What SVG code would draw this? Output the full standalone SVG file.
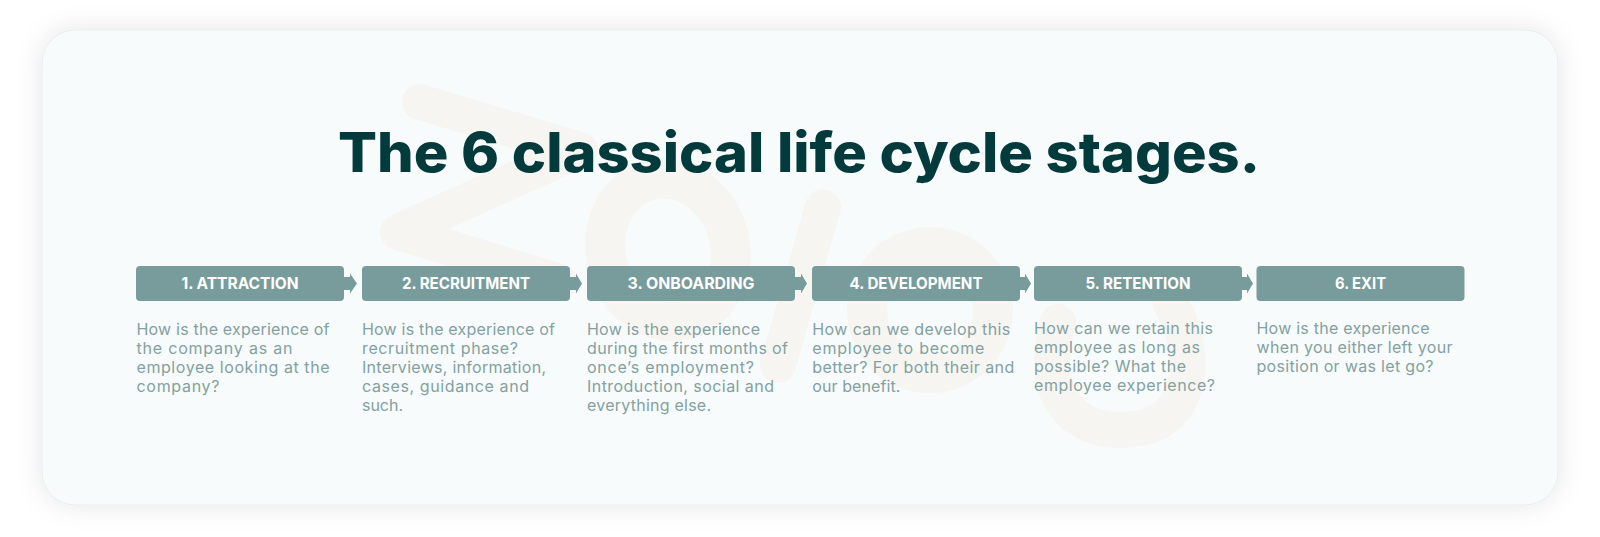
<svg xmlns="http://www.w3.org/2000/svg" width="1600" height="537" viewBox="0 0 1600 537">
  <defs>
    <filter id="shadow" x="-10%" y="-20%" width="120%" height="140%">
      <feDropShadow dx="0" dy="0" stdDeviation="13" flood-color="#000000" flood-opacity="0.10"/>
    </filter>
    <style>
      .title { font-family: Inter, "Liberation Sans", sans-serif; font-weight: 800; font-size: 55px; fill: #033b3d; }
      .box { fill: #789c9b; }
      .label { font-family: Inter, "Liberation Sans", sans-serif; font-weight: 700; font-size: 16px; fill: #ffffff; text-anchor: middle; }
      .body { font-family: Inter, "Liberation Sans", sans-serif; font-weight: 400; font-size: 16px; fill: #82a1a0; }
      .wm { fill: none; stroke: #f6f5f2; stroke-linecap: round; stroke-linejoin: round; }
      .arrow { fill: #789c9b; }
    </style>
  </defs>
  <rect x="0" y="0" width="1600" height="537" fill="#ffffff"/>
  <rect id="card" x="42" y="30" width="1516" height="475" rx="33" ry="33" fill="#f8fbfc" stroke="#e9eced" stroke-width="1" filter="url(#shadow)"/>

  <g id="watermark">
    <path class="wm" stroke-width="36" d="M 420 102 L 580 150 L 398 232 L 560 282"/>
    <ellipse class="wm" stroke-width="40" cx="668" cy="250" rx="62" ry="72" transform="rotate(-15 668 250)"/>
    <path class="wm" stroke-width="36" d="M 823 207 L 778 365"/>
    <circle class="wm" stroke-width="40" cx="930" cy="310" r="63"/>
    <path class="wm" stroke-width="36" d="M 1058 322 C 1035 400 1080 440 1140 428 C 1195 418 1198 350 1170 302"/>
  </g>

  <text id="title" class="title" x="338" y="172" textLength="922" lengthAdjust="spacingAndGlyphs">The 6 classical life cycle stages.</text>

  <g id="connectors">
    <path class="arrow" d="M 343 277 L 350 277 L 350 273.5 L 357 283.5 L 350 293.5 L 350 290 L 343 290 Z"/>
    <path class="arrow" d="M 569 277 L 576 277 L 576 273.5 L 582 283.5 L 576 293.5 L 576 290 L 569 290 Z"/>
    <path class="arrow" d="M 794 277 L 801 277 L 801 273.5 L 807 283.5 L 801 293.5 L 801 290 L 794 290 Z"/>
    <path class="arrow" d="M 1019 277 L 1025 277 L 1025 273.5 L 1031 283.5 L 1025 293.5 L 1025 290 L 1019 290 Z"/>
    <path class="arrow" d="M 1241 277 L 1247 277 L 1247 273.5 L 1253 283.5 L 1247 293.5 L 1247 290 L 1241 290 Z"/>
  </g>

  <g id="stage1">
    <rect class="box" x="136" y="266" width="208" height="35" rx="4"/>
    <text class="label" x="240" y="289" textLength="117" lengthAdjust="spacingAndGlyphs">1. ATTRACTION</text>
    <text class="body" x="136.5" y="334.5" textLength="193" lengthAdjust="spacing">How is the experience of</text>
    <text class="body" x="136.5" y="353.6" textLength="156" lengthAdjust="spacing">the company as an</text>
    <text class="body" x="136.5" y="372.7" textLength="193" lengthAdjust="spacing">employee looking at the</text>
    <text class="body" x="136.5" y="391.8" textLength="83" lengthAdjust="spacing">company?</text>
  </g>

  <g id="stage2">
    <rect class="box" x="362" y="266" width="208" height="35" rx="4"/>
    <text class="label" x="466" y="289" textLength="128" lengthAdjust="spacingAndGlyphs">2. RECRUITMENT</text>
    <text class="body" x="362" y="334.5" textLength="193" lengthAdjust="spacing">How is the experience of</text>
    <text class="body" x="362" y="353.6" textLength="156" lengthAdjust="spacing">recruitment phase?</text>
    <text class="body" x="362" y="372.7" textLength="184" lengthAdjust="spacing">Interviews, information,</text>
    <text class="body" x="362" y="391.8" textLength="167" lengthAdjust="spacing">cases, guidance and</text>
    <text class="body" x="362" y="410.9" textLength="41" lengthAdjust="spacing">such.</text>
  </g>

  <g id="stage3">
    <rect class="box" x="587" y="266" width="208" height="35" rx="4"/>
    <text class="label" x="691" y="289" textLength="127" lengthAdjust="spacingAndGlyphs">3. ONBOARDING</text>
    <text class="body" x="587" y="334.5" textLength="173" lengthAdjust="spacing">How is the experience</text>
    <text class="body" x="587" y="353.6" textLength="201" lengthAdjust="spacing">during the first months of</text>
    <text class="body" x="587" y="372.7" textLength="167" lengthAdjust="spacing">once’s employment?</text>
    <text class="body" x="587" y="391.8" textLength="187" lengthAdjust="spacing">Introduction, social and</text>
    <text class="body" x="587" y="410.9" textLength="124" lengthAdjust="spacing">everything else.</text>
  </g>

  <g id="stage4">
    <rect class="box" x="812" y="266" width="208" height="35" rx="4"/>
    <text class="label" x="916" y="289" textLength="133" lengthAdjust="spacingAndGlyphs">4. DEVELOPMENT</text>
    <text class="body" x="812.3" y="334.5" textLength="198" lengthAdjust="spacing">How can we develop this</text>
    <text class="body" x="812.3" y="353.6" textLength="172" lengthAdjust="spacing">employee to become</text>
    <text class="body" x="812.3" y="372.7" textLength="202" lengthAdjust="spacing">better? For both their and</text>
    <text class="body" x="812.3" y="391.8" textLength="88" lengthAdjust="spacing">our benefit.</text>
  </g>

  <g id="stage5">
    <rect class="box" x="1034" y="266" width="208" height="35" rx="4"/>
    <text class="label" x="1138" y="289" textLength="105" lengthAdjust="spacingAndGlyphs">5. RETENTION</text>
    <text class="body" x="1034" y="333.5" textLength="179" lengthAdjust="spacing">How can we retain this</text>
    <text class="body" x="1034" y="352.6" textLength="166" lengthAdjust="spacing">employee as long as</text>
    <text class="body" x="1034" y="371.7" textLength="152" lengthAdjust="spacing">possible? What the</text>
    <text class="body" x="1034" y="390.8" textLength="181" lengthAdjust="spacing">employee experience?</text>
  </g>

  <g id="stage6">
    <rect class="box" x="1256.5" y="266" width="208" height="35" rx="4"/>
    <text class="label" x="1360.5" y="289" textLength="51" lengthAdjust="spacingAndGlyphs">6. EXIT</text>
    <text class="body" x="1256.5" y="333.5" textLength="173" lengthAdjust="spacing">How is the experience</text>
    <text class="body" x="1256.5" y="352.6" textLength="196" lengthAdjust="spacing">when you either left your</text>
    <text class="body" x="1256.5" y="371.7" textLength="177" lengthAdjust="spacing">position or was let go?</text>
  </g>
</svg>
